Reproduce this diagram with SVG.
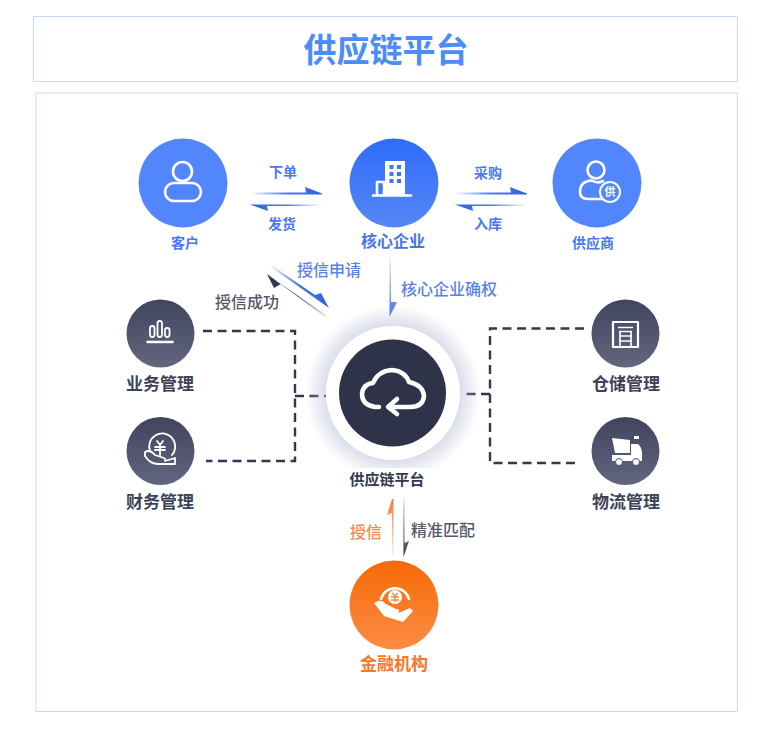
<svg xmlns="http://www.w3.org/2000/svg" width="772" height="739" viewBox="0 0 772 739">
<style>
text{font-family:"Noto Sans CJK SC","Noto Sans",sans-serif;text-anchor:middle}
.frame{fill:#fff;stroke:#c9daf2;stroke-width:1}
.blue{fill:#4a78ee;font-weight:700;font-size:14px}
.blueb{fill:#4a76e4;font-weight:700;font-size:16px}
.edge{fill:#5b82ea;font-weight:500;font-size:16px}
.dark{fill:#3d4258;font-weight:700;font-size:17px}
.gray{fill:#555968;font-weight:500;font-size:16px}
.ico{fill:none;stroke:#fff;stroke-width:2.600;stroke-linecap:round;stroke-linejoin:round}
.dash{fill:none;stroke:#333750;stroke-width:2.400;stroke-dasharray:9 5.500}
</style>
<defs>
<linearGradient id="gCore" x1="0" y1="0" x2="0" y2="1"><stop offset="0" stop-color="#2f6cfb"/><stop offset="1" stop-color="#5687f4"/></linearGradient>
<linearGradient id="gDark" x1="0" y1="0" x2="0" y2="1"><stop offset="0" stop-color="#40445e"/><stop offset="1" stop-color="#62667f"/></linearGradient>
<linearGradient id="gBank" x1="0" y1="0" x2="0" y2="1"><stop offset="0" stop-color="#f76a06"/><stop offset="1" stop-color="#fb8c45"/></linearGradient>
<linearGradient id="aR" x1="0" y1="0" x2="1" y2="0"><stop offset="0" stop-color="#2f62dd" stop-opacity="0"/><stop offset=".5" stop-color="#2f62dd" stop-opacity=".85"/><stop offset="1" stop-color="#2f62dd"/></linearGradient>
<linearGradient id="aL" x1="0" y1="0" x2="1" y2="0"><stop offset="0" stop-color="#2f62dd"/><stop offset=".5" stop-color="#2f62dd" stop-opacity=".85"/><stop offset="1" stop-color="#2f62dd" stop-opacity="0"/></linearGradient>
<linearGradient id="aD" x1="0" y1="0" x2="0" y2="1"><stop offset="0" stop-color="#3a6ee8" stop-opacity="0"/><stop offset="1" stop-color="#3a6ee8"/></linearGradient>
<linearGradient id="aO" x1="0" y1="1" x2="0" y2="0"><stop offset="0" stop-color="#f47a2c" stop-opacity=".1"/><stop offset="1" stop-color="#f47a2c"/></linearGradient>
<linearGradient id="aN" x1="0" y1="0" x2="0" y2="1"><stop offset="0" stop-color="#2c3350" stop-opacity=".1"/><stop offset="1" stop-color="#2c3350"/></linearGradient>
<linearGradient id="aDB" gradientUnits="userSpaceOnUse" x1="272" y1="266" x2="328" y2="307"><stop offset="0" stop-color="#2f62dd" stop-opacity=".1"/><stop offset=".5" stop-color="#2f62dd" stop-opacity=".9"/><stop offset="1" stop-color="#2f62dd"/></linearGradient>
<linearGradient id="aDK" gradientUnits="userSpaceOnUse" x1="326" y1="317" x2="267" y2="274"><stop offset="0" stop-color="#2c3350" stop-opacity=".1"/><stop offset=".5" stop-color="#2c3350" stop-opacity=".9"/><stop offset="1" stop-color="#2c3350"/></linearGradient>
<radialGradient id="halo"><stop offset=".75" stop-color="#b4b9d2" stop-opacity=".5"/><stop offset="1" stop-color="#b4b9d2" stop-opacity="0"/></radialGradient>
</defs>
<rect class="frame" x="33.500" y="16.500" width="704" height="65"/>
<rect class="frame" x="36" y="93" width="701.500" height="618.500"/>
<text x="386" y="62" style="font-size:33px;font-weight:700;fill:#4b8cfa">供应链平台</text>
<g id="connectors">
<path class="dash" d="M203 331H295V461H206"/>
<path class="dash" d="M295 396H326"/>
<path class="dash" d="M584 328.500H490V463H580"/>
<path class="dash" d="M490 394H461"/>
<polygon fill="url(#aR)" points="250,192.500 306,192.500 305,187 322,193.500 322,194.500 250,194.500"/>
<polygon fill="url(#aL)" points="250,204.500 322,204.500 322,206 267,206 268,211"/>
<polygon fill="url(#aR)" points="455,192.500 511,192.500 510,187 527,193.500 527,194.500 455,194.500"/>
<polygon fill="url(#aL)" points="455,204.500 527,204.500 527,206 472,206 473,211"/>
<polygon fill="url(#aDB)" points="272,265.500 315,295 321,293 329,308 271,267"/>
<polygon fill="url(#aDK)" points="327,316 281,284 274,288 267,274 326,317.500"/>
<polygon fill="url(#aD)" points="389.500,252 391,252 391,302 397,302 389.500,317"/>
<polygon fill="url(#aO)" points="392,499 393.500,499 393.500,556 392,556 392,513 387,515"/>
<polygon fill="url(#aN)" points="403,498 404.500,498 404.500,543 409,541 403.500,557"/>
</g>
<g id="customer"><circle cx="183" cy="183" r="44.500" fill="#5286ff"/><circle class="ico" cx="182.500" cy="171.500" r="9.500"/><rect class="ico" x="165" y="183" width="36" height="18" rx="9" ry="9"/><text class="blue" x="185" y="248">客户</text></g>
<g id="core"><circle cx="394" cy="183" r="44.500" fill="url(#gCore)"/><path class="ico" d="M373 195.500H411M377 195V182H384V195"/><rect x="385" y="161" width="20" height="34" fill="#fff"/><path d="M389.500 165h4v4h-4zM397 165h4v4h-4zM389.500 172h4v4h-4zM397 172h4v4h-4zM389.500 179h4v4h-4zM397 179h4v4h-4zM379.500 186h3v3h-3z" fill="#3d74f8"/><text class="blueb" x="393" y="247">核心企业</text></g>
<g id="supplier"><circle cx="597" cy="183" r="44.500" fill="#5286ff"/><circle class="ico" cx="596" cy="170" r="8.500"/><path class="ico" d="M605 199H588Q580 199 580 192Q580 181 592 180.500Q597 184 603 181"/><circle cx="610" cy="192" r="10" fill="#5286ff" stroke="#fff" stroke-width="2"/><text x="610" y="196" style="font-size:11px;font-weight:700;fill:#fff">供</text><text class="blue" x="593" y="248">供应商</text></g>
<g id="business"><circle cx="160.500" cy="333.500" r="34" fill="url(#gDark)"/><g class="ico" style="stroke-width:1.800"><rect x="150" y="326" width="4.500" height="11" rx="2.200"/><rect x="157.500" y="321" width="4.500" height="16" rx="2.200"/><rect x="165" y="328" width="4.500" height="9" rx="2.200"/></g><path class="ico" d="M147.500 342H172.500"/><text class="dark" x="160" y="390">业务管理</text></g>
<g id="finance"><circle cx="160.500" cy="451" r="34" fill="url(#gDark)"/><g class="ico" style="stroke-width:1.800"><path d="M150 451A13 13 0 1 1 172 455"/><path d="M145 452Q150 449 155 455L164 458Q166 459 165 461L175 458V464H158Q150 464 145 456Z"/><path d="M157 441L160 445L163 441M155 447H165M155 450H165M160 445V455"/></g><text class="dark" x="160" y="508">财务管理</text></g>
<g id="platform"><circle cx="393" cy="393" r="88" fill="url(#halo)"/><circle cx="393" cy="393" r="67" fill="#fff"/><circle cx="392.500" cy="393" r="53.500" fill="#2f3349"/><path d="M379 407H375Q362 405 362 394Q363 384 373 383Q378 371 392 370Q405 371 409 382Q423 385 424 396Q423 407 410 407H390M397 399L388 407L397 414" fill="none" stroke="#fff" stroke-width="4.500" stroke-linecap="round" stroke-linejoin="round"/><rect x="330" y="468" width="120" height="24" fill="#fff"/><text x="387" y="485" style="font-size:15px;font-weight:700;fill:#34384c">供应链平台</text></g>
<g id="warehouse"><circle cx="625.500" cy="333.500" r="34" fill="url(#gDark)"/><g class="ico" style="stroke-width:2.200;stroke-linecap:butt"><rect x="613" y="322" width="25" height="25"/><path d="M618 327.500H633M619 331.500H632M619 336H632M619 341H632M620 331V346M631 331V346" style="stroke-width:1.600"/></g><text class="dark" x="626" y="390">仓储管理</text></g>
<g id="logistics"><circle cx="625.500" cy="451" r="34" fill="url(#gDark)"/><path d="M612 438L630 440V453H615ZM631 444H638Q642 447 642 454V461H612V455H631Z" fill="#fff"/><rect x="634" y="436" width="5" height="3" fill="#fff"/><circle cx="619" cy="462" r="3.500" fill="#fff" stroke="#50546c"/><circle cx="636" cy="462" r="3.500" fill="#fff" stroke="#50546c"/><text class="dark" x="626" y="508">物流管理</text></g>
<g id="bank"><circle cx="394" cy="605" r="44.500" fill="url(#gBank)"/><path class="ico" d="M381 599A14.500 14.500 0 0 1 409 599"/><circle cx="395" cy="597" r="7" fill="#fff"/><path d="M392 593L395 596L398 593M391 597H399M391 600H399M395 596V602" fill="none" stroke="#f9852f" stroke-width="1.300"/><path d="M374 603L378 601Q382 600 386 604L396 609Q400 609 399 613L410 608L413 611L403 622L384 616Z" fill="#fff"/><text x="394" y="670" style="font-size:17px;font-weight:700;fill:#f6782a">金融机构</text></g>
<g id="edge-labels">
<text class="blue" x="283" y="177">下单</text>
<text class="blue" x="282" y="229">发货</text>
<text class="blue" x="488" y="178">采购</text>
<text class="blue" x="488" y="229">入库</text>
<text class="edge" x="329" y="276">授信申请</text>
<text class="gray" x="247" y="308">授信成功</text>
<text class="edge" x="449" y="295">核心企业确权</text>
<text x="366" y="538" style="font-size:16px;font-weight:500;fill:#f58a4b">授信</text>
<text class="gray" x="443" y="536">精准匹配</text>
</g>
</svg>
